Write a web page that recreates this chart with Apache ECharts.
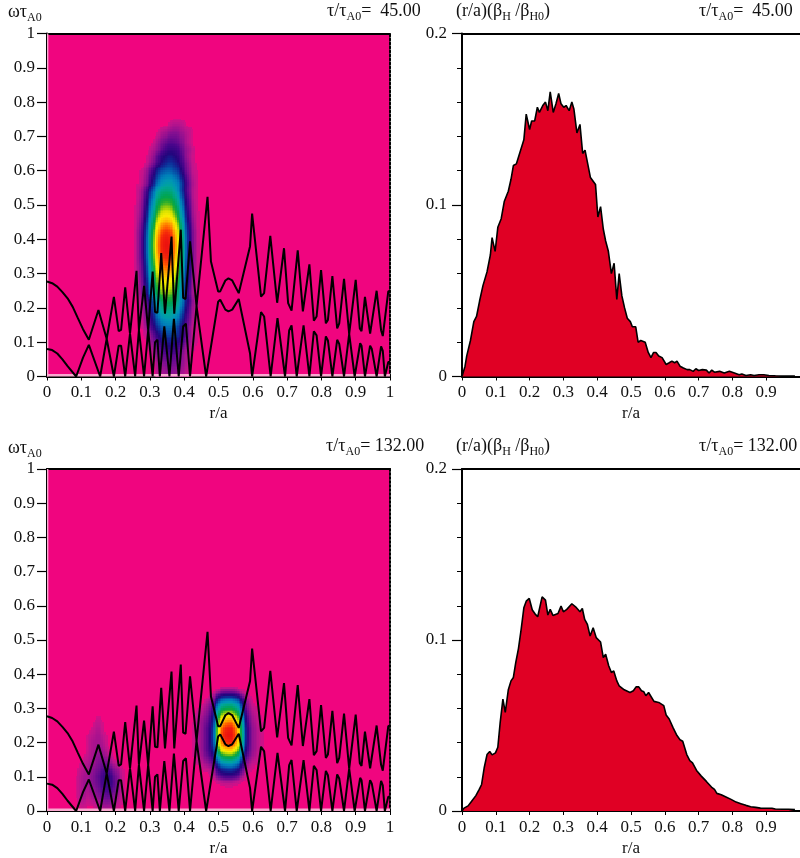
<!DOCTYPE html>
<html><head><meta charset="utf-8">
<style>html,body{margin:0;padding:0;background:#fff}#c{width:800px;height:858px}</style>
<script src="https://cdn.jsdelivr.net/npm/echarts@6/dist/echarts.min.js"></script>
</head><body><div id="c"></div>
<script>
// ---- Alfvén continuum lines (r/a, omega tau_A0), the same in both left panels
const continuumUpper=[[0,.277],[.015,.272],[.03,.262],[.045,.246],[.06,.228],[.075,.203],[.09,.17],[.105,.138],[.122,.107],[.127,.11],[.15,.194],[.155,.198],[.174,.11],[.195,.232],[.209,.132],[.216,.136],[.228,.26],[.242,.125],[.261,.308],[.268,.135],[.283,.264],[.295,.135],[.308,.306],[.315,.188],[.322,.186],[.333,.36],[.344,.183],[.363,.408],[.371,.183],[.39,.428],[.397,.229],[.404,.226],[.417,.394],[.436,.205],[.468,.524],[.478,.335],[.499,.248],[.505,.248],[.52,.28],[.529,.286],[.54,.28],[.559,.243],[.592,.38],[.598,.475],[.624,.233],[.633,.243],[.651,.41],[.671,.215],[.691,.374],[.703,.214],[.713,.192],[.731,.368],[.746,.19],[.765,.327],[.778,.163],[.786,.175],[.799,.31],[.813,.155],[.819,.165],[.832,.293],[.846,.14],[.852,.155],[.866,.285],[.881,.124],[.9,.282],[.912,.14],[.917,.132],[.927,.232],[.942,.125],[.947,.125],[.961,.25],[.974,.135],[.979,.118],[.995,.248],[1,.25]];
const continuumLower=[[0,.08],[.015,.077],[.03,.067],[.045,.05],[.06,.03],[.085,0],[.105,.055],[.122,.092],[.127,.092],[.155,0],[.174,.11],[.195,0],[.209,.09],[.216,.09],[.228,0],[.242,.125],[.257,0],[.268,.135],[.283,0],[.295,.135],[.308,0],[.315,.1],[.322,.107],[.329,0],[.342,.146],[.357,0],[.37,.168],[.384,0],[.397,.146],[.405,.154],[.417,0],[.436,.205],[.464,0],[.499,.218],[.505,.224],[.52,.195],[.529,.19],[.54,.195],[.559,.226],[.592,.067],[.598,0],[.624,.188],[.633,.175],[.652,0],[.672,.17],[.694,0],[.706,.134],[.713,.149],[.728,0],[.748,.149],[.765,0],[.778,.132],[.786,.12],[.799,0],[.813,.117],[.819,.105],[.832,0],[.846,.107],[.852,.095],[.866,0],[.881,.124],[.897,0],[.913,.097],[.917,.09],[.927,0],[.942,.09],[.947,.08],[.961,0],[.974,.088],[.979,.075],[.985,0],[.995,.042],[1,.042]];

// ---- Spectrum levels (percent of peak), panel at tau = 45
const colsA=[.26,.27,.28,.29,.30,.31,.32,.33,.34,.35,.36,.37,.38,.39,.40,.41,.42,.43,.44,.45];
const rowsA=[.74,.72,.70,.68,.66,.64,.62,.60,.58,.56,.54,.52,.50,.48,.46,.44,.42,.40,.38,.36,.34,.32,.30,.28,.26,.24,.22,.20,.18,.16,.14,.12,.10,.08,.06,.04,.02,0];
const levelsA=[
[0,0,0,0,0,0,0,0,0,0,4,5,5,5,4,0,0,0,0,0],
[0,0,0,0,0,0,0,4,5,6,7,8,8,7,6,5,4,0,0,0],
[0,0,0,0,0,0,4,6,8,9,11,11,11,9,8,6,4,0,0,0],
[0,0,0,0,0,4,6,9,11,13,14,14,13,11,9,6,4,0,0,0],
[0,0,0,0,4,6,8,11,14,17,18,18,17,14,11,8,6,4,0,0],
[0,0,0,3,5,8,12,16,19,21,22,21,19,16,12,8,5,3,0,0],
[0,0,0,4,6,10,14,18,22,25,26,25,22,18,14,10,6,4,0,0],
[0,3,4,7,11,16,22,27,29,31,31,29,27,22,16,11,7,4,3,0],
[0,3,5,8,13,20,26,32,35,37,37,35,32,26,20,13,8,5,3,0],
[3,3,6,9,15,23,31,37,41,43,43,41,37,31,23,15,9,6,3,0],
[3,5,9,14,23,31,40,46,49,50,49,46,40,31,23,14,9,5,3,0],
[3,5,10,16,26,35,46,52,56,57,56,52,46,35,26,16,10,5,3,0],
[4,6,11,18,29,40,51,59,63,64,63,59,51,40,29,18,11,6,3,0],
[4,6,12,20,32,44,57,65,70,71,70,65,57,44,32,20,12,6,4,0],
[4,7,13,22,36,49,63,73,77,79,77,73,63,49,36,22,13,7,4,0],
[4,8,15,25,40,55,70,81,86,88,86,81,70,55,40,25,15,8,4,0],
[5,9,16,27,43,59,76,87,93,95,93,87,76,59,43,27,16,9,5,0],
[5,9,17,28,45,61,79,91,97,99,97,91,79,61,45,28,17,9,5,0],
[5,9,17,28,45,62,80,92,98,100,98,92,80,62,45,28,17,9,5,2],
[5,9,17,28,45,61,79,91,97,99,97,91,79,61,45,28,17,9,5,0],
[5,9,16,27,43,59,76,87,93,95,93,87,76,59,43,27,16,9,5,0],
[5,8,15,25,41,56,72,83,88,90,88,83,72,56,41,25,15,8,5,0],
[4,8,14,24,38,52,67,77,82,84,82,77,67,52,38,24,14,8,4,0],
[4,7,13,22,35,48,62,72,76,78,76,72,62,48,35,22,13,7,4,0],
[3,6,12,20,32,45,58,66,71,72,71,66,58,45,32,20,12,6,3,0],
[3,6,11,18,30,41,53,61,65,66,65,61,53,41,30,18,11,6,3,0],
[0,4,8,13,21,31,41,50,55,57,57,55,50,41,31,21,13,8,4,0],
[0,4,7,11,19,28,37,45,49,51,51,49,45,37,28,19,11,7,4,0],
[0,3,6,10,16,24,32,39,43,45,45,43,39,32,24,16,10,6,3,0],
[0,0,5,9,14,21,28,33,37,39,39,37,33,28,21,14,9,5,3,0],
[0,0,4,7,12,17,23,28,31,33,33,31,28,23,17,12,7,4,3,0],
[0,0,3,4,7,13,17,22,26,28,28,28,26,22,17,13,7,4,3,0],
[0,0,0,3,7,10,14,18,21,22,23,22,21,18,14,10,7,4,3,0],
[0,0,0,0,5,7,10,13,16,18,19,18,16,13,10,7,5,3,0,0],
[0,0,0,0,0,6,8,11,13,14,15,14,13,11,8,6,4,0,0,0],
[0,0,0,0,0,0,6,8,10,11,12,12,11,10,8,6,4,0,0,0],
[0,0,0,0,0,0,5,7,8,9,10,10,9,8,7,5,3,0,0,0],
[0,0,0,0,0,0,4,6,7,8,9,9,8,7,6,4,3,0,0,0]];

// ---- Spectrum levels, panel at tau = 132: main peak
const colsB=[.43,.44,.45,.46,.47,.48,.49,.50,.51,.52,.53,.54,.55,.56,.57,.58,.59,.60,.61,.62,.63];
const rowsB=[.36,.34,.32,.30,.28,.26,.24,.22,.20,.18,.16,.14,.12,.10,.08];
const levelsB=[
[0,0,0,0,0,0,0,0,3,3,3,3,3,0,0,0,0,0,0,0,0],
[0,0,0,0,0,4,7,13,16,18,18,18,17,14,9,5,3,0,0,0,0],
[0,0,0,3,6,8,14,27,34,37,38,38,35,30,20,11,6,3,0,0,0],
[0,3,4,6,9,12,21,40,50,54,55,55,51,43,29,15,8,5,4,0,0],
[3,5,6,8,11,15,27,52,65,71,72,72,67,56,37,20,10,7,5,4,0],
[4,6,8,10,13,18,33,63,78,85,87,87,81,68,45,24,12,8,6,4,3],
[4,6,8,11,15,20,37,70,87,95,97,97,90,76,50,27,14,9,7,5,3],
[4,6,8,11,15,21,38,72,90,98,100,100,93,78,52,28,14,9,7,5,3],
[4,6,8,11,15,21,36,69,86,94,96,96,89,75,50,27,14,9,7,5,3],
[4,6,8,11,15,19,31,59,74,80,82,82,76,64,43,23,13,9,7,5,3],
[4,5,7,10,13,16,24,45,56,61,62,62,58,48,32,18,11,8,6,4,0],
[3,4,5,7,9,11,16,30,38,41,42,42,39,33,22,12,7,5,4,3,0],
[0,0,3,4,5,6,10,19,24,26,27,27,25,21,14,8,4,3,0,0,0],
[0,0,0,0,0,4,6,12,14,16,16,16,15,12,8,4,0,0,0,0,0],
[0,0,0,0,0,0,0,3,4,5,5,5,4,3,0,0,0,0,0,0,0]];

// ---- Spectrum levels, panel at tau = 132: weak low-radius patch
const colsC=[.09,.10,.11,.12,.13,.14,.15,.16,.17,.18,.19,.20,.21,.22];
const rowsC=[.28,.26,.24,.22,.20,.18,.16,.14,.12,.10,.08,.06,.04,.02,0];
const levelsC=[
[0,0,0,0,0,0,3,0,0,0,0,0,0,0],
[0,0,0,0,0,4,5,4,0,0,0,0,0,0],
[0,0,0,0,3,5,6,5,0,0,0,0,0,0],
[0,0,0,4,5,6,7,6,4,0,0,0,0,0],
[0,0,0,4,6,7,7,7,5,0,0,0,0,0],
[0,0,0,4,6,7,8,8,6,4,0,0,0,0],
[0,0,3,5,6,8,9,9,8,6,4,0,0,0],
[0,4,5,6,7,8,10,11,11,10,7,5,3,0],
[3,5,6,7,8,10,11,13,15,15,12,9,7,4],
[4,6,7,7,9,11,13,15,18,20,16,12,9,5],
[4,6,8,7,9,11,12,15,17,19,17,13,9,5],
[4,6,8,6,8,9,11,13,15,16,14,12,8,5],
[4,6,7,5,6,8,9,11,12,13,11,9,6,4],
[3,5,5,3,4,5,6,8,9,9,8,6,4,3],
[0,3,3,0,0,3,4,5,6,6,5,4,3,0]];

// ---- Profiles (r/a, (r/a)(beta_H/beta_H0))
const profile45=[[0,0],[.009,.006],[.014,.012],[.025,.021],[.035,.032],[.043,.035],[.052,.044],[.062,.053],[.074,.061],[.084,.071],[.089,.081],[.098,.073],[.106,.087],[.116,.092],[.125,.102],[.137,.108],[.145,.115],[.152,.123],[.161,.124],[.172,.131],[.183,.138],[.19,.153],[.2,.144],[.206,.149],[.215,.149],[.223,.157],[.229,.154],[.239,.158],[.247,.16],[.254,.155],[.261,.166],[.27,.154],[.278,.159],[.286,.165],[.293,.159],[.301,.157],[.308,.158],[.317,.155],[.325,.16],[.331,.156],[.34,.142],[.349,.147],[.357,.13],[.364,.132],[.372,.124],[.38,.116],[.395,.112],[.402,.093],[.41,.099],[.418,.086],[.425,.079],[.433,.073],[.442,.06],[.45,.066],[.458,.045],[.465,.06],[.473,.047],[.481,.04],[.489,.034],[.498,.032],[.504,.029],[.514,.029],[.521,.02],[.529,.021],[.542,.02],[.551,.014],[.559,.011],[.567,.014],[.574,.014],[.582,.012],[.592,.011],[.604,.007],[.613,.008],[.621,.009],[.629,.008],[.636,.009],[.645,.006],[.655,.005],[.666,.004],[.674,.004],[.684,.003],[.692,.0045],[.7,.0035],[.711,.004],[.723,.0037],[.731,.002],[.739,.0037],[.747,.0025],[.762,.003],[.776,.002],[.791,.003],[.806,.002],[.82,.001],[.828,.0015],[.84,.0006],[.854,.001],[.864,.0006],[.879,.001],[.893,.001],[.908,.0006],[.927,.0004],[.947,.0002],[.966,.0002],[.985,.0002]];
const profile132=[[0,0],[.006,.0017],[.018,.003],[.028,.0056],[.041,.009],[.051,.0126],[.058,.0155],[.066,.0256],[.074,.033],[.082,.0348],[.089,.0328],[.099,.034],[.106,.0373],[.113,.0518],[.121,.0654],[.128,.0577],[.137,.0709],[.145,.0761],[.152,.0781],[.159,.0868],[.167,.095],[.175,.1062],[.183,.1188],[.19,.1227],[.199,.1243],[.208,.1175],[.216,.1153],[.224,.1136],[.237,.1252],[.247,.1233],[.254,.1146],[.261,.1179],[.269,.1144],[.284,.1155],[.293,.1198],[.3,.1165],[.31,.1179],[.325,.1212],[.336,.1194],[.349,.1165],[.356,.1184],[.363,.112],[.371,.1091],[.379,.1023],[.388,.1072],[.397,.1014],[.41,.0988],[.418,.0897],[.425,.0917],[.434,.0849],[.442,.081],[.449,.0819],[.458,.0761],[.465,.0732],[.48,.0709],[.497,.0693],[.507,.0703],[.515,.0726],[.523,.0726],[.531,.0703],[.538,.0697],[.544,.0674],[.552,.0693],[.568,.0641],[.582,.0635],[.597,.0616],[.604,.0561],[.613,.0538],[.624,.0489],[.636,.0441],[.645,.0417],[.653,.0408],[.665,.033],[.674,.0295],[.682,.0282],[.694,.0237],[.708,.0204],[.723,.0173],[.738,.014],[.747,.0126],[.754,.0103],[.767,.0095],[.781,.0082],[.796,.0068],[.811,.0052],[.825,.0043],[.84,.0033],[.854,.0025],[.869,.0021],[.883,.0017],[.898,.0016],[.917,.0016],[.927,.0012],[.947,.001],[.966,.001],[.985,.0008]];

// ---- Captions
const titles=[
 {x:8,y:0,t:'{m|ωτ}{s|A0}'},
 {x:327,y:-1,t:'{m|τ/τ}{s|A0}{m|=  45.00}'},
 {x:456,y:-1,t:'{m|(r/a)(β}{s|H}{m| /β}{s|H0}{m|)}'},
 {x:699,y:-1,t:'{m|τ/τ}{s|A0}{m|=  45.00}'},
 {x:8,y:436,t:'{m|ωτ}{s|A0}'},
 {x:326,y:434,t:'{m|τ/τ}{s|A0}{m|= 132.00}'},
 {x:456,y:434,t:'{m|(r/a)(β}{s|H}{m| /β}{s|H0}{m|)}'},
 {x:699,y:434,t:'{m|τ/τ}{s|A0}{m|= 132.00}'}];

const FONT='"Liberation Serif","Times New Roman",serif', INK='#111';
const stops=['#f0087f','#be148c','#820f91','#4b058c','#23057d','#0f2896','#0555aa','#007db9','#0096b4','#00a59b','#00a578','#00a550','#1eaa32','#78c314','#d2e100','#faeb00','#ffc800','#ff9600','#ff5a00','#f5280a','#eb0f0f'];
const colorOf=l=>echarts.color.lerp(Math.min(1,l/100),stops);

// Nodes of the level table; each is shaded smoothly towards its right and lower neighbours.
function nodes(cols,rows,levels){const out=[],dx=cols[1]-cols[0],dy=rows[0]-rows[1];
 const L=(i,j)=>(i>=0&&i<rows.length&&j>=0&&j<cols.length)?levels[i][j]:0;
 for(let i=-1;i<rows.length;i++)for(let j=-1;j<cols.length;j++){
  const a=L(i,j),b=L(i,j+1),c=L(i+1,j),d=L(i+1,j+1);
  if(a||b||c||d)out.push([cols[0]+j*dx,rows[0]-i*dy,a,b,c,d]);}
 return out;}
function cellSeries(data,idx,dx,dy){const NX=2,NY=4;return {type:'custom',xAxisIndex:idx,yAxisIndex:idx,coordinateSystem:'cartesian2d',clip:true,silent:true,z:2,
 encode:{x:0,y:1},data:data,
 renderItem(p,api){const r=api.value(0),v=api.value(1),a=api.value(2),b=api.value(3),c=api.value(4),d=api.value(5),kids=[];
  for(let m=0;m<NY;m++)for(let n=0;n<NX;n++){
   const fx=(n+.5)/NX,fy=(m+.5)/NY,l=(a*(1-fx)+b*fx)*(1-fy)+(c*(1-fx)+d*fx)*fy;
   if(l<3)continue;
   const p0=api.coord([r+dx*n/NX,v-dy*m/NY]),p1=api.coord([r+dx*(n+1)/NX,v-dy*(m+1)/NY]);
   const x0=Math.floor(p0[0]),y0=Math.floor(p0[1]),x1=Math.ceil(p1[0]),y1=Math.ceil(p1[1]);
   kids.push({type:'rect',shape:{x:x0,y:y0,width:x1-x0,height:y1-y0},style:{fill:colorOf(l)}});}
  return {type:'group',children:kids};}};}
function lineSer(data,i,mark){const s={type:'line',xAxisIndex:i,yAxisIndex:i,data:data,showSymbol:false,symbol:'none',silent:true,z:5,
 lineStyle:{color:'#000',width:2}};
 if(mark)s.markArea={silent:true,z:3,itemStyle:{color:'#f9a8cf'},data:[[{xAxis:0,yAxis:0},{xAxis:1,yAxis:.007}],[{xAxis:0,yAxis:0},{xAxis:.004,yAxis:1}]]};
 return s;}
function areaSer(data,i){return {type:'line',xAxisIndex:i,yAxisIndex:i,data:data,showSymbol:false,symbol:'none',silent:true,z:5,
 lineStyle:{color:'#000',width:1.6},areaStyle:{color:'#e00024',opacity:1,origin:'start'}};}

const grids=[[47,33.5,343,343],[462,33.5,343,343],[47,469,343,343],[462,469,343,343]].map(g=>({left:g[0],top:g[1],width:g[2],height:g[3]}));
grids[0].show=grids[2].show=true;grids[0].backgroundColor=grids[2].backgroundColor='#f0057f';grids[0].borderWidth=grids[2].borderWidth=0;
const xAxes=[],yAxes=[];
const lbl={fontFamily:FONT,fontSize:17,color:INK};
grids.forEach((g,i)=>{const spectrum=i%2===0;
 xAxes.push({type:'value',gridIndex:i,min:0,max:1,interval:.1,name:'r/a',nameLocation:'middle',nameGap:29,nameTextStyle:{fontFamily:FONT,fontSize:17,color:INK},
  axisLine:{onZero:false,lineStyle:{color:'#000',width:2}},axisTick:{length:4,lineStyle:{color:'#000',width:1}},splitLine:{show:false},
  axisLabel:Object.assign({margin:8,hideOverlap:false,showMinLabel:true,showMaxLabel:spectrum,formatter:v=>String(+v.toFixed(1))},lbl)});
 yAxes.push({type:'value',gridIndex:i,min:0,max:spectrum?1:.2,interval:.1,
  axisLine:{onZero:false,lineStyle:{color:'#000',width:2}},axisTick:{length:10,lineStyle:{color:'#000',width:1.2}},splitLine:{show:false},
  minorTick:spectrum?{show:false}:{show:true,splitNumber:5,length:5,lineStyle:{color:'#000',width:1}},minorSplitLine:{show:false},
  axisLabel:Object.assign({margin:spectrum?12:15,showMinLabel:true,showMaxLabel:true,formatter:v=>String(+v.toFixed(1))},lbl)});});
// frame axes: top edge on every panel, dotted right edge on the spectra
grids.forEach((g,i)=>{const spectrum=i%2===0;
 xAxes.push({type:'value',gridIndex:i,position:'top',min:0,max:1,axisLine:{onZero:false,lineStyle:{color:'#000',width:2}},axisTick:{show:false},axisLabel:{show:false},splitLine:{show:false}});
 yAxes.push({type:'value',gridIndex:i,position:'right',min:0,max:1,show:spectrum,axisLine:{onZero:false,lineStyle:{color:'#000',width:2,type:[2,2]}},axisTick:{show:false},axisLabel:{show:false},splitLine:{show:false}});});

const chart=echarts.init(document.getElementById('c'),null,{renderer:'canvas'});
chart.setOption({animation:false,backgroundColor:'#fff',grid:grids,xAxis:xAxes,yAxis:yAxes,
 series:[
  cellSeries(nodes(colsA,rowsA,levelsA),0,.01,.02),
  cellSeries(nodes(colsB,rowsB,levelsB),2,.01,.02),
  cellSeries(nodes(colsC,rowsC,levelsC),2,.01,.02),
  lineSer(continuumUpper,0,true),lineSer(continuumLower,0),
  lineSer(continuumUpper,2,true),lineSer(continuumLower,2),
  areaSer(profile45,1),areaSer(profile132,3)],
 graphic:titles.map(c=>({type:'text',x:c.x,y:c.y,silent:true,z:20,style:{text:c.t,fill:INK,font:'18px '+FONT,
  rich:{m:{fontFamily:FONT,fontSize:18,lineHeight:24,fill:INK},s:{fontFamily:FONT,fontSize:12,lineHeight:24,verticalAlign:'bottom',fill:INK}}}}))
});
</script></body></html>
